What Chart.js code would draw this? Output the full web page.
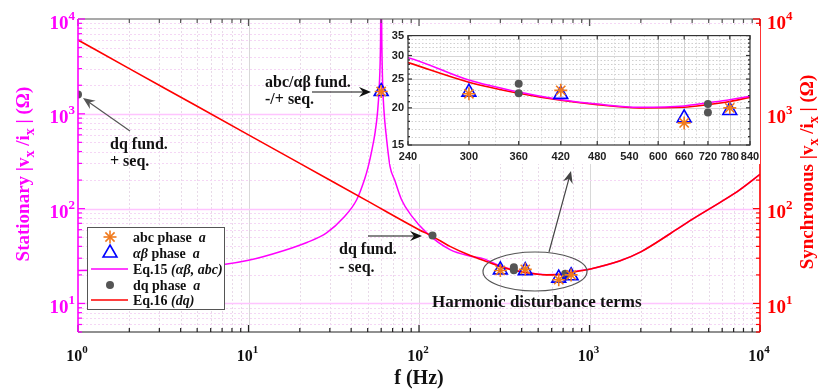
<!DOCTYPE html>
<html>
<head>
<meta charset="utf-8">
<script src="https://cdn.jsdelivr.net/npm/chart.js@4.4.1/dist/chart.umd.min.js"></script>
<style>
  body { margin: 0; background: #fff; overflow: hidden; }
  #wrap { position: relative; width: 820px; height: 392px; }
  #main { position: absolute; left: 0; top: 0; }
  #inset { position: absolute; left: 390px; top: 26px; background: #fff; }
</style>
</head>
<body>
<div id="wrap">
  <canvas id="main" width="820" height="392"></canvas>
  <canvas id="inset" width="370" height="138"></canvas>
</div>
<script>
// axis ticks
const xTicks = [1, 10, 100, 1000, 10000];
const yTicks = [10, 100, 1000, 10000];
const insetXTicks = [240, 300, 360, 420, 480, 540, 600, 660, 720, 780, 840];
const insetYTicks = [15, 20, 25, 30, 35];

// Eq.15 (alpha-beta, abc) stationary impedance
const eq15Freq = [1, 2, 4, 7, 10, 16, 22, 28.7, 36, 43.1, 48, 50.4, 53, 55.2, 57, 58.5, 59.5, 60, 60.5, 61.2, 62.5, 64, 67.6, 72, 79, 90, 111, 152, 200, 240, 300, 360, 420, 480, 560, 660, 720, 780, 840, 1000, 1500, 2000, 3000, 4000, 6000, 7600, 10000];
const eq15Z = [22.3, 22.6, 23.6, 25.6, 28.5, 36, 44, 55.5, 80, 124, 205, 279, 420, 627, 1000, 2000, 6000, 40000, 6000, 2100, 1000, 627, 279, 200, 124, 85, 55.5, 37, 31.5, 29.5, 24.8, 22.6, 21.3, 20.6, 20.1, 20.3, 20.8, 21.3, 21.9, 23, 28, 35, 55, 77, 120, 158, 230];

// Eq.16 (dq) synchronous impedance
const eq16Freq = [1, 2, 5, 10, 20, 50, 100, 120, 152, 200, 240, 300, 360, 420, 480, 560, 660, 720, 780, 840, 1000, 1500, 2000, 3000, 4000, 6000, 7600, 10000];
const eq16Z = [6000, 3000, 1200, 600, 300, 120, 60, 51, 40, 32, 28.4, 24.4, 22.4, 21.2, 20.5, 20.0, 20.1, 20.5, 21.0, 21.7, 23, 28, 35, 55, 77, 120, 158, 230];

// measured points
const abcFreq = [60, 300, 420, 660, 780];
const abcZ = [1720, 22.3, 22.9, 17.8, 20.0];
const abFreq = [60, 300, 420, 660, 780];
const abZ = [1720, 22.6, 22.2, 18.5, 19.6];
const dqFreq = [1, 120, 360, 360, 720, 720];
const dqZ = [1600, 52, 24.1, 22.4, 20.6, 19.3];

const ORANGE = '#F07A1C', BLUE = '#0000FF', MAGENTA = '#FF00FF', RED = '#FF0000', DQGREY = '#555555';
const SERIF = '"Liberation Serif", "Times New Roman", serif';
const SANS = '"Liberation Sans", Arial, sans-serif';
const bold = s => 'bold ' + s + 'px ' + SERIF;
const boldIt = s => 'italic bold ' + s + 'px ' + SERIF;

function pts(xs, ys) {
  return xs.map((v, i) => ({ x: v, y: ys[i] }));
}

// 1..9 x 10^n positions between min and max
function logSteps(min, max) {
  const out = [];
  for (let d = Math.floor(Math.log10(min)); d < Math.ceil(Math.log10(max)) + 1; d++) {
    for (let m = 1; m < 10; m++) {
      const v = m * Math.pow(10, d);
      if (v >= min && v <= max) out.push(v);
    }
  }
  return out;
}

function seg(ctx, x1, y1, x2, y2) {
  ctx.beginPath();
  ctx.moveTo(x1, y1);
  ctx.lineTo(x2, y2);
  ctx.stroke();
}

function richText(ctx, parts, x, y, align) {
  let w = 0;
  parts.forEach(p => { ctx.font = p.f; w += ctx.measureText(p.t).width; });
  let cx = align === 'center' ? x - w / 2 : align === 'right' ? x - w : x;
  ctx.textAlign = 'left';
  ctx.textBaseline = 'alphabetic';
  parts.forEach(p => {
    ctx.font = p.f;
    ctx.fillText(p.t, cx, y + (p.dy || 0));
    cx += ctx.measureText(p.t).width;
  });
}

function arrow(ctx, x1, y1, x2, y2, color) {
  const a = Math.atan2(y2 - y1, x2 - x1);
  ctx.strokeStyle = color;
  ctx.fillStyle = color;
  ctx.lineWidth = 1.2;
  ctx.setLineDash([]);
  seg(ctx, x1, y1, x2 - Math.cos(a) * 6, y2 - Math.sin(a) * 6);
  ctx.save();
  ctx.translate(x2, y2);
  ctx.rotate(a);
  ctx.beginPath();
  ctx.moveTo(0, 0);
  ctx.lineTo(-12, -5);
  ctx.lineTo(-8, 0);
  ctx.lineTo(-12, 5);
  ctx.closePath();
  ctx.fill();
  ctx.restore();
}

function drawMarker(ctx, style, x, y) {
  ctx.setLineDash([]);
  if (style === 'star') {
    const r = 6.5;
    ctx.strokeStyle = ORANGE; ctx.lineWidth = 1.6;
    for (let k = 0; k < 4; k++) {
      const ang = k * Math.PI / 4;
      seg(ctx, x - Math.cos(ang) * r, y - Math.sin(ang) * r, x + Math.cos(ang) * r, y + Math.sin(ang) * r);
    }
  } else if (style === 'triangle') {
    const r = 8;
    ctx.strokeStyle = BLUE; ctx.lineWidth = 1.6;
    ctx.beginPath();
    ctx.moveTo(x, y - r);
    ctx.lineTo(x + r * 0.866, y + r / 2);
    ctx.lineTo(x - r * 0.866, y + r / 2);
    ctx.closePath();
    ctx.stroke();
  } else {
    ctx.fillStyle = DQGREY;
    ctx.beginPath();
    ctx.arc(x, y, 4, 0, Math.PI * 2);
    ctx.fill();
  }
}

function markerSets() {
  return [
    { label: 'abc phase a', data: pts(abcFreq, abcZ), showLine: false, pointStyle: 'star', pointRadius: 6.5,
      borderColor: ORANGE, pointBorderColor: ORANGE, pointBorderWidth: 1.6 },
    { label: 'αβ phase a', data: pts(abFreq, abZ), showLine: false, pointStyle: 'triangle', pointRadius: 8,
      borderColor: BLUE, pointBorderColor: BLUE, pointBackgroundColor: 'rgba(0,0,0,0)', pointBorderWidth: 1.6 },
    { label: 'dq phase a', data: pts(dqFreq, dqZ), showLine: false, pointStyle: 'circle', pointRadius: 4,
      borderColor: DQGREY, pointBorderColor: DQGREY, pointBackgroundColor: DQGREY, pointBorderWidth: 0 }
  ];
}
function eq15Set() {
  return { label: 'Eq.15', data: pts(eq15Freq, eq15Z), borderColor: MAGENTA, borderWidth: 1.5,
    pointRadius: 0, cubicInterpolationMode: 'monotone', fill: false };
}
function eq16Set() {
  return { label: 'Eq.16', data: pts(eq16Freq, eq16Z), borderColor: RED, borderWidth: 1.6,
    pointRadius: 0, cubicInterpolationMode: 'monotone', fill: false };
}

const mainDecor = {
  id: 'mainDecor',
  beforeDatasetsDraw(chart) {
    const { ctx, chartArea: a, scales: { x, y } } = chart;
    ctx.save();
    ctx.lineWidth = 1;
    logSteps(1, 10000).forEach(v => {
      if (v === 1 || v === 10000) return;
      const px = Math.round(x.getPixelForValue(v)) + 0.5;
      const major = xTicks.includes(v);
      ctx.strokeStyle = major ? '#d8d8d8' : '#e8dae8';
      ctx.setLineDash(major ? [] : [2, 2]);
      seg(ctx, px, a.top, px, a.bottom);
    });
    logSteps(5, 10000).forEach(v => {
      if (v === 5 || v === 10000) return;
      const py = Math.round(y.getPixelForValue(v)) + 0.5;
      const major = yTicks.includes(v);
      ctx.strokeStyle = major ? '#ffc4ff' : '#f5d6f5';
      ctx.lineWidth = major ? 1.5 : 1;
      ctx.setLineDash(major ? [] : [2, 2]);
      seg(ctx, a.left, py, a.right, py);
    });
    ctx.restore();
  },
  afterDraw(chart) {
    const { ctx, chartArea: a, scales: { x, y, y2 } } = chart;
    ctx.save();
    ctx.setLineDash([]);

    // box and inward ticks
    ctx.lineWidth = 1.2;
    ctx.strokeStyle = '#222';
    seg(ctx, a.left, a.bottom, a.right, a.bottom);
    ctx.strokeStyle = '#555';
    seg(ctx, a.left, a.top, a.right, a.top);
    logSteps(1, 10000).forEach(v => {
      const px = x.getPixelForValue(v);
      const len = xTicks.includes(v) ? 7 : 4;
      ctx.strokeStyle = '#222';
      seg(ctx, px, a.bottom, px, a.bottom - len);
      ctx.strokeStyle = '#555';
      seg(ctx, px, a.top, px, a.top + len);
    });
    ctx.lineWidth = 1.6;
    ctx.strokeStyle = MAGENTA;
    seg(ctx, a.left, a.top, a.left, a.bottom);
    ctx.strokeStyle = RED;
    seg(ctx, a.right, a.top, a.right, a.bottom);
    ctx.lineWidth = 1.2;
    logSteps(5, 10000).forEach(v => {
      const len = yTicks.includes(v) ? 7 : 4;
      ctx.strokeStyle = MAGENTA;
      const py = y.getPixelForValue(v);
      seg(ctx, a.left, py, a.left + len, py);
      ctx.strokeStyle = RED;
      const py2 = y2.getPixelForValue(v);
      seg(ctx, a.right, py2, a.right - len, py2);
    });

    // tick labels
    ctx.fillStyle = '#111';
    xTicks.forEach(v => {
      const px = x.getPixelForValue(v);
      richText(ctx, [{ t: '10', f: bold(16) }, { t: String(Math.round(Math.log10(v))), f: bold(11), dy: -8 }], px - 1, 361, 'center');
    });
    yTicks.forEach(v => {
      const e = String(Math.round(Math.log10(v)));
      ctx.fillStyle = MAGENTA;
      const py = y.getPixelForValue(v);
      richText(ctx, [{ t: '10', f: bold(19) }, { t: e, f: bold(13), dy: -9 }], 75, py + 9.5, 'right');
      ctx.fillStyle = RED;
      const py2 = y2.getPixelForValue(v);
      richText(ctx, [{ t: '10', f: bold(19) }, { t: e, f: bold(13), dy: -9 }], 767, py2 + 9.5, 'left');
    });

    // axis titles
    const titleParts = word => [
      { t: word + ' |v', f: bold(19) }, { t: 'x', f: bold(14), dy: 5 },
      { t: ' /i', f: bold(19) }, { t: 'x', f: bold(14), dy: 5 }, { t: ' | (Ω)', f: bold(19) }
    ];
    ctx.save();
    ctx.fillStyle = MAGENTA;
    ctx.translate(29, 174);
    ctx.rotate(-Math.PI / 2);
    richText(ctx, titleParts('Stationary'), 0, 0, 'center');
    ctx.restore();
    ctx.save();
    ctx.fillStyle = RED;
    ctx.translate(813, 172);
    ctx.rotate(-Math.PI / 2);
    richText(ctx, titleParts('Synchronous'), 0, 0, 'center');
    ctx.restore();
    ctx.fillStyle = '#111';
    richText(ctx, [{ t: 'f (Hz)', f: bold(20) }], 419, 384, 'center');

    // legend
    ctx.fillStyle = '#fff';
    ctx.fillRect(87, 227, 137, 82);
    ctx.strokeStyle = '#555';
    ctx.lineWidth = 1;
    ctx.strokeRect(87.5, 227.5, 137, 82);
    const rows = [
      { kind: 'star', y: 237, parts: [{ t: 'abc phase  ', f: bold(14) }, { t: 'a', f: boldIt(14) }] },
      { kind: 'triangle', y: 253, parts: [{ t: 'αβ', f: boldIt(14) }, { t: ' phase  ', f: bold(14) }, { t: 'a', f: boldIt(14) }] },
      { kind: 'line', color: MAGENTA, y: 269, parts: [{ t: 'Eq.15 ', f: bold(14) }, { t: '(αβ, abc)', f: boldIt(14) }] },
      { kind: 'dot', y: 285, parts: [{ t: 'dq phase  ', f: bold(14) }, { t: 'a', f: boldIt(14) }] },
      { kind: 'line', color: RED, y: 300, parts: [{ t: 'Eq.16 ', f: bold(14) }, { t: '(dq)', f: boldIt(14) }] }
    ];
    rows.forEach(r => {
      if (r.kind === 'line') {
        ctx.strokeStyle = r.color;
        ctx.lineWidth = 1.6;
        seg(ctx, 91, r.y, 128, r.y);
      } else {
        drawMarker(ctx, r.kind, 110, r.y);
      }
      ctx.fillStyle = '#111';
      richText(ctx, r.parts, 133, r.y + 5, 'left');
    });

    // annotations
    ctx.fillStyle = '#111';
    richText(ctx, [{ t: 'abc/αβ fund.', f: bold(16) }], 265, 87, 'left');
    richText(ctx, [{ t: '-/+ seq.', f: bold(16) }], 265, 104, 'left');
    arrow(ctx, 312, 92, 371, 92, '#111');

    ctx.fillStyle = '#111';
    richText(ctx, [{ t: 'dq fund.', f: bold(16) }], 110, 149, 'left');
    richText(ctx, [{ t: '+ seq.', f: bold(16) }], 110, 166, 'left');
    arrow(ctx, 130, 131, 83, 98, '#555');

    ctx.fillStyle = '#111';
    richText(ctx, [{ t: 'dq fund.', f: bold(16) }], 339, 254, 'left');
    richText(ctx, [{ t: '- seq.', f: bold(16) }], 339, 272, 'left');
    arrow(ctx, 368, 236, 422, 236, '#111');

    ctx.strokeStyle = '#555';
    ctx.lineWidth = 1.2;
    ctx.beginPath();
    ctx.ellipse(535, 271.5, 52, 19.5, 0, 0, Math.PI * 2);
    ctx.stroke();
    arrow(ctx, 549, 252, 571, 171, '#444');
    ctx.fillStyle = '#111';
    richText(ctx, [{ t: 'Harmonic disturbance terms', f: bold(17) }], 432, 307, 'left');

    ctx.restore();
  }
};

const insetDecor = {
  id: 'insetDecor',
  beforeDatasetsDraw(chart) {
    const { ctx, chartArea: a, scales: { x, y } } = chart;
    ctx.save();
    ctx.lineWidth = 1;
    for (let v = 16; v < 35; v++) {
      const py = Math.round(y.getPixelForValue(v)) + 0.5;
      const major = insetYTicks.includes(v);
      ctx.strokeStyle = major ? '#d6d6d6' : '#cfcfcf';
      ctx.setLineDash(major ? [] : [1.5, 2]);
      seg(ctx, a.left, py, a.right, py);
    }
    insetXTicks.forEach((v, i) => {
      if (i > 0 && i < insetXTicks.length - 1) {
        const px = Math.round(x.getPixelForValue(v)) + 0.5;
        ctx.strokeStyle = '#d0d0d0';
        ctx.setLineDash([]);
        seg(ctx, px, a.top, px, a.bottom);
      }
      if (i > 0) {
        const mid = (v + insetXTicks[i - 1]) / 2;
        const pm = Math.round(x.getPixelForValue(mid)) + 0.5;
        ctx.strokeStyle = '#d8d8d8';
        ctx.setLineDash([1.5, 2]);
        seg(ctx, pm, a.top, pm, a.bottom);
      }
    });
    ctx.restore();
  },
  afterDraw(chart) {
    const { ctx, chartArea: a, scales: { x, y } } = chart;
    ctx.save();
    ctx.setLineDash([]);
    ctx.strokeStyle = '#333';
    ctx.lineWidth = 1.2;
    ctx.strokeRect(a.left, a.top, a.right - a.left, a.bottom - a.top);
    for (let v = 15; v <= 35; v++) {
      const py = y.getPixelForValue(v);
      const len = insetYTicks.includes(v) ? 4 : 2;
      seg(ctx, a.left, py, a.left + len, py);
      seg(ctx, a.right, py, a.right - len, py);
    }
    insetXTicks.forEach(v => {
      const px = x.getPixelForValue(v);
      seg(ctx, px, a.bottom, px, a.bottom - 4);
      seg(ctx, px, a.top, px, a.top + 4);
    });
    ctx.fillStyle = '#222';
    ctx.font = 'bold 11px ' + SANS;
    ctx.textAlign = 'center';
    ctx.textBaseline = 'top';
    insetXTicks.forEach(v => ctx.fillText(String(v), x.getPixelForValue(v), a.bottom + 6));
    ctx.textAlign = 'right';
    ctx.textBaseline = 'middle';
    insetYTicks.forEach(v => ctx.fillText(String(v), a.left - 4, y.getPixelForValue(v)));
    ctx.restore();
  }
};

const logScale = (min, max, extra) => Object.assign({ type: 'logarithmic', min: min, max: max, display: false }, extra || {});

new Chart(document.getElementById('main'), {
  type: 'line',
  data: {
    datasets: [
      ...markerSets().map((d, i) => (i === 2 ? Object.assign(d, { yAxisID: 'y2' }) : d)),
      Object.assign(eq16Set(), { yAxisID: 'y2' }),
      eq15Set()
    ]
  },
  options: {
    responsive: false,
    animation: false,
    layout: { padding: { left: 78, right: 60, top: 19, bottom: 60 } },
    plugins: { legend: { display: false }, tooltip: { enabled: false } },
    scales: {
      x: logScale(1, 10000),
      y: logScale(5, 10000),
      y2: logScale(5, 10000, { position: 'right' })
    }
  },
  plugins: [mainDecor]
});

new Chart(document.getElementById('inset'), {
  type: 'line',
  data: {
    datasets: [...markerSets(), eq15Set(), eq16Set()]
  },
  options: {
    responsive: false,
    animation: false,
    layout: { padding: { left: 18, right: 10, top: 6, bottom: 19 } },
    plugins: { legend: { display: false }, tooltip: { enabled: false } },
    scales: {
      x: logScale(240, 840),
      y: logScale(15, 35)
    }
  },
  plugins: [insetDecor]
});
</script>
</body>
</html>
